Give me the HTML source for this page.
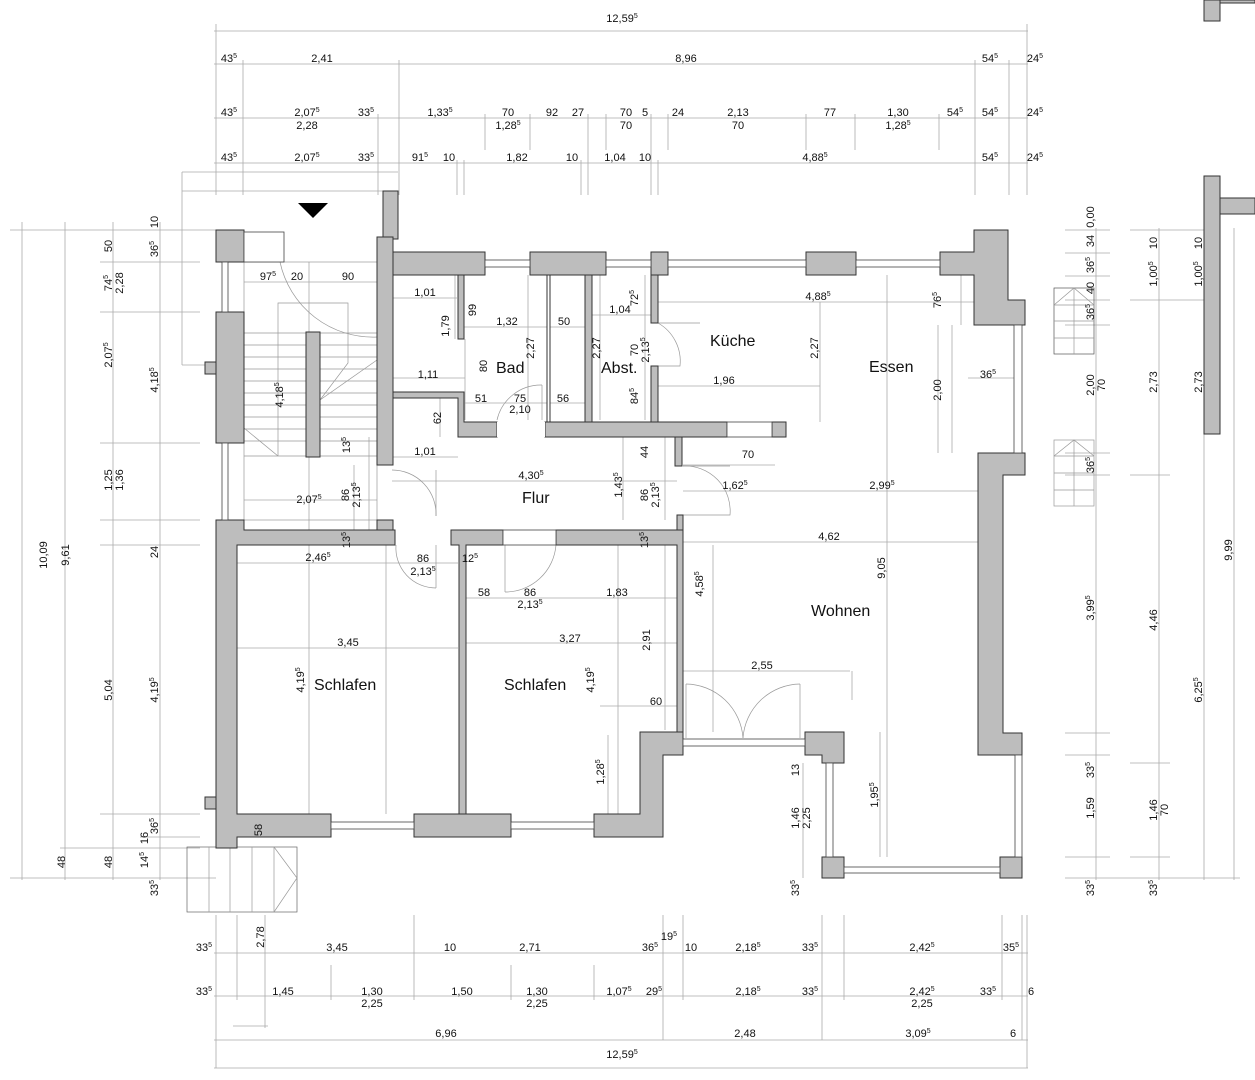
<!DOCTYPE html>
<html><head><meta charset="utf-8"><style>
html,body{margin:0;padding:0;background:#fff}
svg{display:block}
text{font-family:"Liberation Sans",sans-serif;fill:#111}
.d{font-size:11px}
.r{font-size:16px}
.s{font-size:7px}
.dl{stroke:#aaa;stroke-width:0.8;fill:none}
.w{fill:#bdbdbd;stroke:#333;stroke-width:1}
.win{fill:#fff;stroke:#444;stroke-width:0.8}
.th{stroke:#999;stroke-width:0.7;fill:none}
</style></head><body>
<svg width="1255" height="1080" viewBox="0 0 1255 1080" xmlns="http://www.w3.org/2000/svg">
<!-- top dimension lines -->
<g class="dl">
<line x1="214" y1="31" x2="1028" y2="31"/>
<line x1="214" y1="64" x2="1028" y2="64"/>
<line x1="214" y1="118" x2="1028" y2="118"/>
<line x1="214" y1="163" x2="1028" y2="163"/>
<line x1="216" y1="24" x2="216" y2="195"/><line x1="1027" y1="24" x2="1027" y2="195"/>
<line x1="243" y1="60" x2="243" y2="195"/><line x1="399" y1="60" x2="399" y2="195"/>
<line x1="975" y1="60" x2="975" y2="195"/><line x1="1009" y1="60" x2="1009" y2="195"/>
<line x1="378" y1="114" x2="378" y2="195"/><line x1="485" y1="114" x2="485" y2="150"/>
<line x1="530" y1="114" x2="530" y2="150"/><line x1="588" y1="114" x2="588" y2="195"/>
<line x1="606" y1="114" x2="606" y2="150"/><line x1="651" y1="114" x2="651" y2="195"/>
<line x1="668" y1="114" x2="668" y2="150"/><line x1="806" y1="114" x2="806" y2="150"/>
<line x1="855" y1="114" x2="855" y2="150"/><line x1="939" y1="114" x2="939" y2="150"/>
<line x1="457" y1="160" x2="457" y2="195"/><line x1="464" y1="160" x2="464" y2="195"/>
<line x1="581" y1="160" x2="581" y2="195"/><line x1="658" y1="160" x2="658" y2="195"/>
<line x1="182" y1="172" x2="398" y2="172"/><line x1="182" y1="191" x2="398" y2="191"/>
<line x1="182" y1="172" x2="182" y2="365"/><line x1="182" y1="365" x2="216" y2="365"/>
<!-- bottom -->
<line x1="214" y1="953" x2="1028" y2="953"/>
<line x1="214" y1="996" x2="1028" y2="996"/>
<line x1="214" y1="1040" x2="1028" y2="1040"/>
<line x1="214" y1="1068" x2="1028" y2="1068"/>
<line x1="216" y1="915" x2="216" y2="1068"/><line x1="1027" y1="915" x2="1027" y2="1068"/>
<line x1="237" y1="915" x2="237" y2="1000"/><line x1="331" y1="965" x2="331" y2="1000"/>
<line x1="414" y1="915" x2="414" y2="1000"/><line x1="511" y1="965" x2="511" y2="1000"/>
<line x1="594" y1="965" x2="594" y2="1000"/><line x1="663" y1="915" x2="663" y2="1040"/>
<line x1="683" y1="915" x2="683" y2="1000"/><line x1="822" y1="915" x2="822" y2="1040"/>
<line x1="844" y1="915" x2="844" y2="1000"/><line x1="1002" y1="915" x2="1002" y2="1000"/>
<line x1="1022" y1="915" x2="1022" y2="1040"/>
<line x1="265" y1="915" x2="265" y2="1028"/><line x1="233" y1="1026" x2="268" y2="1026"/>
<!-- left -->
<line x1="22" y1="222" x2="22" y2="880"/><line x1="65" y1="222" x2="65" y2="880"/>
<line x1="113" y1="222" x2="113" y2="880"/><line x1="160" y1="222" x2="160" y2="880"/>
<line x1="10" y1="230" x2="216" y2="230"/><line x1="10" y1="878" x2="216" y2="878"/>
<line x1="100" y1="262" x2="200" y2="262"/><line x1="100" y1="312" x2="200" y2="312"/>
<line x1="100" y1="443" x2="200" y2="443"/><line x1="100" y1="520" x2="200" y2="520"/>
<line x1="100" y1="545" x2="200" y2="545"/><line x1="100" y1="814" x2="200" y2="814"/>
<line x1="60" y1="848" x2="200" y2="848"/><line x1="140" y1="837" x2="200" y2="837"/>
<!-- right -->
<line x1="1096" y1="228" x2="1096" y2="880"/><line x1="1159" y1="228" x2="1159" y2="880"/>
<line x1="1204" y1="228" x2="1204" y2="880"/><line x1="1234" y1="228" x2="1234" y2="880"/>
<line x1="1065" y1="230" x2="1110" y2="230"/><line x1="1065" y1="253" x2="1110" y2="253"/>
<line x1="1065" y1="276" x2="1110" y2="276"/><line x1="1065" y1="300" x2="1110" y2="300"/>
<line x1="1065" y1="325" x2="1110" y2="325"/><line x1="1065" y1="453" x2="1110" y2="453"/>
<line x1="1065" y1="475" x2="1110" y2="475"/><line x1="1065" y1="733" x2="1110" y2="733"/>
<line x1="1065" y1="755" x2="1110" y2="755"/><line x1="1065" y1="857" x2="1110" y2="857"/>
<line x1="1065" y1="878" x2="1240" y2="878"/>
<line x1="1130" y1="230" x2="1210" y2="230"/><line x1="1130" y1="300" x2="1210" y2="300"/>
<line x1="1130" y1="475" x2="1170" y2="475"/><line x1="1130" y1="763" x2="1170" y2="763"/>
<line x1="1130" y1="857" x2="1170" y2="857"/>
<!-- interior dims -->
<line x1="244" y1="282" x2="377" y2="282"/><line x1="393" y1="298" x2="457" y2="298"/>
<line x1="464" y1="327" x2="585" y2="327"/><line x1="592" y1="315" x2="651" y2="315"/>
<line x1="658" y1="302" x2="974" y2="302"/><line x1="393" y1="378" x2="465" y2="378"/>
<line x1="658" y1="386" x2="820" y2="386"/><line x1="465" y1="403" x2="585" y2="403"/>
<line x1="393" y1="457" x2="458" y2="457"/><line x1="392" y1="481" x2="677" y2="481"/>
<line x1="683" y1="491" x2="978" y2="491"/><line x1="683" y1="465" x2="775" y2="465"/>
<line x1="244" y1="500" x2="377" y2="500"/><line x1="683" y1="542" x2="978" y2="542"/>
<line x1="237" y1="563" x2="458" y2="563"/><line x1="465" y1="598" x2="677" y2="598"/>
<line x1="237" y1="648" x2="458" y2="648"/><line x1="465" y1="643" x2="677" y2="643"/>
<line x1="683" y1="671" x2="850" y2="671"/><line x1="600" y1="706" x2="677" y2="706"/>
<line x1="820" y1="302" x2="820" y2="422"/><line x1="887" y1="275" x2="887" y2="857"/>
<line x1="952" y1="325" x2="952" y2="453"/><line x1="961" y1="275" x2="961" y2="325"/>
<line x1="309" y1="262" x2="309" y2="814"/><line x1="386" y1="545" x2="386" y2="814"/>
<line x1="618" y1="545" x2="618" y2="814"/><line x1="713" y1="545" x2="713" y2="732"/>
<line x1="608" y1="735" x2="608" y2="814"/><line x1="852" y1="671" x2="852" y2="700"/>
<line x1="880" y1="732" x2="880" y2="857"/><line x1="803" y1="763" x2="803" y2="878"/>
<line x1="665" y1="545" x2="665" y2="730"/>
<line x1="623" y1="422" x2="623" y2="520"/><line x1="665" y1="437" x2="665" y2="520"/>
<line x1="528" y1="275" x2="528" y2="420"/><line x1="600" y1="275" x2="600" y2="420"/>
<line x1="465" y1="339" x2="465" y2="420"/><line x1="645" y1="275" x2="645" y2="420"/>
<line x1="455" y1="275" x2="455" y2="339"/><line x1="440" y1="392" x2="440" y2="437"/>
<line x1="369" y1="437" x2="369" y2="545"/><line x1="354" y1="465" x2="354" y2="545"/>
<line x1="938" y1="325" x2="938" y2="453"/><line x1="968" y1="378" x2="1015" y2="378"/>
</g>
<!-- stair left -->
<g class="th">
<rect x="244" y="262" width="133" height="258"/>
<line x1="244" y1="333" x2="377" y2="333"/><line x1="244" y1="345" x2="377" y2="345"/>
<line x1="244" y1="357" x2="377" y2="357"/><line x1="244" y1="369" x2="377" y2="369"/>
<line x1="244" y1="381" x2="377" y2="381"/><line x1="244" y1="393" x2="377" y2="393"/>
<line x1="244" y1="405" x2="377" y2="405"/><line x1="244" y1="417" x2="377" y2="417"/>
<line x1="244" y1="429" x2="377" y2="429"/><line x1="244" y1="441" x2="377" y2="441"/>
<line x1="244" y1="456" x2="377" y2="456"/>
<polyline points="278,456 278,303 348,303 348,363 320,400"/>
<line x1="320" y1="400" x2="377" y2="360"/><line x1="244" y1="428" x2="278" y2="456"/>
<path d="M280,262 A95,95 0 0 0 377,337"/>
<!-- entrance stair -->
<rect x="187" y="847" width="110" height="65" stroke="#666"/>
<line x1="209" y1="847" x2="209" y2="912"/><line x1="230" y1="847" x2="230" y2="912"/>
<line x1="252" y1="847" x2="252" y2="912"/><line x1="274" y1="847" x2="274" y2="912"/>
<polyline points="274,847 297,878 274,912"/>
<!-- right small stairs -->
<rect x="1054" y="288" width="40" height="66" stroke="#555"/>
<line x1="1054" y1="305" x2="1094" y2="305"/><line x1="1054" y1="321" x2="1094" y2="321"/><line x1="1054" y1="338" x2="1094" y2="338"/>
<line x1="1074" y1="288" x2="1074" y2="354"/><polyline points="1054,305 1074,288 1094,305"/>
<rect x="1054" y="440" width="40" height="66"/>
<line x1="1054" y1="456" x2="1094" y2="456"/><line x1="1054" y1="473" x2="1094" y2="473"/><line x1="1054" y1="490" x2="1094" y2="490"/>
<line x1="1074" y1="440" x2="1074" y2="506"/><polyline points="1054,456 1074,440 1094,456"/>
<!-- door swings -->
<path d="M392,470 A44,44 0 0 1 436,516 L436,516"/><line x1="436" y1="470" x2="436" y2="516" stroke="#999"/>
<path d="M396,545 A40,40 0 0 0 436,588"/><line x1="436" y1="545" x2="436" y2="588"/>
<path d="M556,545 A51,51 0 0 1 505,592"/><line x1="505" y1="545" x2="505" y2="592"/>
<path d="M497,420 A45,45 0 0 1 542,385"/><line x1="542" y1="385" x2="542" y2="420"/>
<path d="M658,323 A44,44 0 0 1 680,366 L658,366"/><line x1="658" y1="323" x2="700" y2="323"/>
<path d="M683,466 A45,45 0 0 1 730,515 L683,515"/><line x1="683" y1="466" x2="730" y2="466"/>
<path d="M686,684 A58,58 0 0 1 743,738"/><line x1="686" y1="684" x2="686" y2="738"/>
<path d="M800,684 A58,58 0 0 0 743,738"/><line x1="800" y1="684" x2="800" y2="738"/>
</g>
<!-- walls -->
<g class="w">
<rect x="216" y="230" width="28" height="32"/>
<rect x="216" y="312" width="28" height="131"/>
<rect x="205" y="362" width="11" height="12"/>
<rect x="205" y="797" width="11" height="12"/>
<rect x="306" y="332" width="14" height="125"/>
<rect x="383" y="191" width="15" height="48"/>
<rect x="377" y="237" width="16" height="228"/>
<rect x="377" y="520" width="16" height="25"/>
<polygon points="216,520 244,520 244,530 395,530 395,545 237,545 237,814 331,814 331,837 237,837 237,848 216,848"/>
<rect x="414" y="814" width="97" height="23"/>
<polygon points="594,814 640,814 640,732 683,732 683,755 663,755 663,837 594,837"/>
<polygon points="451,530 503,530 503,545 466,545 466,814 459,814 459,545 451,545"/>
<polygon points="556,530 683,530 683,732 677,732 677,545 556,545"/>
<rect x="677" y="515" width="6" height="15"/>
<rect x="393" y="252" width="92" height="23"/>
<rect x="530" y="252" width="76" height="23"/>
<rect x="651" y="252" width="17" height="23"/>
<rect x="651" y="275" width="7" height="48"/>
<rect x="651" y="366" width="7" height="56"/>
<rect x="806" y="252" width="50" height="23"/>
<polygon points="940,252 974,252 974,230 1008,230 1008,300 1025,300 1025,325 974,325 974,275 940,275"/>
<rect x="458" y="275" width="6" height="64"/>
<rect x="585" y="275" width="7" height="147"/>
<rect x="547" y="275" width="3" height="147" fill="#fff"/>
<polygon points="393,392 464,392 464,422 497,422 497,437 458,437 458,398 393,398"/>
<polygon points="545,422 727,422 727,437 545,437"/>
<rect x="772" y="422" width="14" height="15"/>
<rect x="675" y="437" width="7" height="29"/>
<polygon points="978,453 1025,453 1025,475 1003,475 1003,733 1022,733 1022,755 978,755"/>
<polygon points="805,732 844,732 844,763 822,763 822,755 805,755"/>
<rect x="822" y="857" width="22" height="21"/>
<rect x="1000" y="857" width="22" height="21"/>
<rect x="1204" y="176" width="16" height="258"/>
<rect x="1220" y="198" width="35" height="16"/>
<rect x="1204" y="0" width="16" height="21"/>
<rect x="1220" y="0" width="35" height="3"/>
</g>
<!-- windows -->
<g class="win">
<rect x="485" y="260" width="45" height="7"/><rect x="606" y="260" width="45" height="7"/>
<rect x="668" y="260" width="138" height="7"/><rect x="856" y="260" width="84" height="7"/>
<rect x="1014" y="325" width="8" height="128"/>
<rect x="331" y="822" width="83" height="7"/><rect x="511" y="822" width="83" height="7"/>
<rect x="683" y="739" width="122" height="7"/>
<rect x="826" y="763" width="7" height="94"/><rect x="1015" y="755" width="7" height="102"/>
<rect x="844" y="867" width="156" height="6"/>
<rect x="222" y="262" width="6" height="50"/><rect x="222" y="443" width="6" height="77"/>
<rect x="244" y="232" width="40" height="30" fill="#fff"/>
<rect x="727" y="422" width="45" height="15" fill="#fff"/>
<rect x="503" y="530" width="53" height="15" fill="#fff"/>
<rect x="497" y="422" width="48" height="15" fill="#fff" stroke="none"/>
</g>
<polygon points="298,203 328,203 313,218" fill="#000"/>
<!-- room labels -->
<g class="r">
<text x="496" y="373">Bad</text><text x="601" y="373">Abst.</text>
<text x="710" y="346">Küche</text><text x="869" y="372">Essen</text>
<text x="522" y="503">Flur</text><text x="811" y="616">Wohnen</text>
<text x="314" y="690">Schlafen</text><text x="504" y="690">Schlafen</text>
</g>
<!-- top texts -->
<g class="d" text-anchor="middle">
<text x="622" y="22">12,59<tspan class="s" dy="-4">5</tspan></text>
<text x="229" y="62">43<tspan class="s" dy="-4">5</tspan></text><text x="322" y="62">2,41</text><text x="686" y="62">8,96</text>
<text x="990" y="62">54<tspan class="s" dy="-4">5</tspan></text><text x="1035" y="62">24<tspan class="s" dy="-4">5</tspan></text>
<text x="229" y="116">43<tspan class="s" dy="-4">5</tspan></text><text x="307" y="116">2,07<tspan class="s" dy="-4">5</tspan></text><text x="307" y="129">2,28</text>
<text x="366" y="116">33<tspan class="s" dy="-4">5</tspan></text><text x="440" y="116">1,33<tspan class="s" dy="-4">5</tspan></text>
<text x="508" y="116">70</text><text x="508" y="129">1,28<tspan class="s" dy="-4">5</tspan></text>
<text x="552" y="116">92</text><text x="578" y="116">27</text><text x="626" y="116">70</text><text x="626" y="129">70</text>
<text x="645" y="116">5</text><text x="678" y="116">24</text><text x="738" y="116">2,13</text><text x="738" y="129">70</text>
<text x="830" y="116">77</text><text x="898" y="116">1,30</text><text x="898" y="129">1,28<tspan class="s" dy="-4">5</tspan></text>
<text x="955" y="116">54<tspan class="s" dy="-4">5</tspan></text><text x="990" y="116">54<tspan class="s" dy="-4">5</tspan></text><text x="1035" y="116">24<tspan class="s" dy="-4">5</tspan></text>
<text x="229" y="161">43<tspan class="s" dy="-4">5</tspan></text><text x="307" y="161">2,07<tspan class="s" dy="-4">5</tspan></text>
<text x="366" y="161">33<tspan class="s" dy="-4">5</tspan></text><text x="420" y="161">91<tspan class="s" dy="-4">5</tspan></text>
<text x="449" y="161">10</text><text x="517" y="161">1,82</text><text x="572" y="161">10</text><text x="615" y="161">1,04</text>
<text x="645" y="161">10</text><text x="815" y="161">4,88<tspan class="s" dy="-4">5</tspan></text>
<text x="990" y="161">54<tspan class="s" dy="-4">5</tspan></text><text x="1035" y="161">24<tspan class="s" dy="-4">5</tspan></text>
<!-- bottom -->
<text x="204" y="951">33<tspan class="s" dy="-4">5</tspan></text><text x="337" y="951">3,45</text><text x="450" y="951">10</text>
<text x="530" y="951">2,71</text><text x="650" y="951">36<tspan class="s" dy="-4">5</tspan></text><text x="669" y="940">19<tspan class="s" dy="-4">5</tspan></text>
<text x="691" y="951">10</text><text x="748" y="951">2,18<tspan class="s" dy="-4">5</tspan></text><text x="810" y="951">33<tspan class="s" dy="-4">5</tspan></text>
<text x="922" y="951">2,42<tspan class="s" dy="-4">5</tspan></text><text x="1011" y="951">35<tspan class="s" dy="-4">5</tspan></text>
<text x="204" y="995">33<tspan class="s" dy="-4">5</tspan></text><text x="283" y="995">1,45</text>
<text x="372" y="995">1,30</text><text x="372" y="1007">2,25</text><text x="462" y="995">1,50</text>
<text x="537" y="995">1,30</text><text x="537" y="1007">2,25</text><text x="619" y="995">1,07<tspan class="s" dy="-4">5</tspan></text>
<text x="654" y="995">29<tspan class="s" dy="-4">5</tspan></text><text x="748" y="995">2,18<tspan class="s" dy="-4">5</tspan></text>
<text x="810" y="995">33<tspan class="s" dy="-4">5</tspan></text><text x="922" y="995">2,42<tspan class="s" dy="-4">5</tspan></text><text x="922" y="1007">2,25</text>
<text x="988" y="995">33<tspan class="s" dy="-4">5</tspan></text><text x="1031" y="995">6</text>
<text x="446" y="1037">6,96</text><text x="745" y="1037">2,48</text><text x="918" y="1037">3,09<tspan class="s" dy="-4">5</tspan></text><text x="1013" y="1037">6</text>
<text x="622" y="1058">12,59<tspan class="s" dy="-4">5</tspan></text>
<!-- interior horizontal -->
<text x="268" y="280">97<tspan class="s" dy="-4">5</tspan></text><text x="297" y="280">20</text><text x="348" y="280">90</text>
<text x="425" y="296">1,01</text><text x="507" y="325">1,32</text><text x="564" y="325">50</text>
<text x="620" y="313">1,04</text><text x="818" y="300">4,88<tspan class="s" dy="-4">5</tspan></text>
<text x="428" y="378">1,11</text><text x="724" y="384">1,96</text><text x="481" y="402">51</text><text x="520" y="402">75</text><text x="520" y="413">2,10</text>
<text x="563" y="402">56</text><text x="425" y="455">1,01</text><text x="531" y="479">4,30<tspan class="s" dy="-4">5</tspan></text>
<text x="748" y="458">70</text><text x="735" y="489">1,62<tspan class="s" dy="-4">5</tspan></text><text x="882" y="489">2,99<tspan class="s" dy="-4">5</tspan></text>
<text x="309" y="503">2,07<tspan class="s" dy="-4">5</tspan></text><text x="829" y="540">4,62</text>
<text x="318" y="561">2,46<tspan class="s" dy="-4">5</tspan></text><text x="423" y="562">86</text><text x="423" y="575">2,13<tspan class="s" dy="-4">5</tspan></text>
<text x="470" y="562">12<tspan class="s" dy="-4">5</tspan></text>
<text x="484" y="596">58</text><text x="530" y="596">86</text><text x="530" y="608">2,13<tspan class="s" dy="-4">5</tspan></text><text x="617" y="596">1,83</text>
<text x="348" y="646">3,45</text><text x="570" y="642">3,27</text><text x="762" y="669">2,55</text><text x="656" y="705">60</text>
<text x="988" y="378">36<tspan class="s" dy="-4">5</tspan></text>
</g>
<!-- vertical texts -->
<g class="d" text-anchor="middle">
<text transform="translate(47,555) rotate(-90)">10,09</text>
<text transform="translate(69,555) rotate(-90)">9,61</text>
<text transform="translate(112,246) rotate(-90)">50</text>
<text transform="translate(112,283) rotate(-90)">74<tspan class="s" dy="-4">5</tspan></text>
<text transform="translate(123,283) rotate(-90)">2,28</text>
<text transform="translate(112,355) rotate(-90)">2,07<tspan class="s" dy="-4">5</tspan></text>
<text transform="translate(112,480) rotate(-90)">1,25</text>
<text transform="translate(123,480) rotate(-90)">1,36</text>
<text transform="translate(112,690) rotate(-90)">5,04</text>
<text transform="translate(112,862) rotate(-90)">48</text>
<text transform="translate(65,862) rotate(-90)">48</text>
<text transform="translate(158,222) rotate(-90)">10</text>
<text transform="translate(158,249) rotate(-90)">36<tspan class="s" dy="-4">5</tspan></text>
<text transform="translate(158,380) rotate(-90)">4,18<tspan class="s" dy="-4">5</tspan></text>
<text transform="translate(158,552) rotate(-90)">24</text>
<text transform="translate(158,690) rotate(-90)">4,19<tspan class="s" dy="-4">5</tspan></text>
<text transform="translate(158,826) rotate(-90)">36<tspan class="s" dy="-4">5</tspan></text>
<text transform="translate(148,838) rotate(-90)">16</text>
<text transform="translate(148,860) rotate(-90)">14<tspan class="s" dy="-4">5</tspan></text>
<text transform="translate(158,888) rotate(-90)">33<tspan class="s" dy="-4">5</tspan></text>
<text transform="translate(264,937) rotate(-90)">2,78</text>
<text transform="translate(283,395) rotate(-90)">4,18<tspan class="s" dy="-4">5</tspan></text>
<text transform="translate(449,326) rotate(-90)">1,79</text>
<text transform="translate(476,310) rotate(-90)">99</text>
<text transform="translate(487,366) rotate(-90)">80</text>
<text transform="translate(534,348) rotate(-90)">2,27</text>
<text transform="translate(600,348) rotate(-90)">2,27</text>
<text transform="translate(638,298) rotate(-90)">72<tspan class="s" dy="-4">5</tspan></text>
<text transform="translate(638,350) rotate(-90)">70</text>
<text transform="translate(649,350) rotate(-90)">2,13<tspan class="s" dy="-4">5</tspan></text>
<text transform="translate(638,396) rotate(-90)">84<tspan class="s" dy="-4">5</tspan></text>
<text transform="translate(818,348) rotate(-90)">2,27</text>
<text transform="translate(941,300) rotate(-90)">76<tspan class="s" dy="-4">5</tspan></text>
<text transform="translate(941,390) rotate(-90)">2,00</text>
<text transform="translate(441,418) rotate(-90)">62</text>
<text transform="translate(350,445) rotate(-90)">13<tspan class="s" dy="-4">5</tspan></text>
<text transform="translate(349,495) rotate(-90)">86</text>
<text transform="translate(360,495) rotate(-90)">2,13<tspan class="s" dy="-4">5</tspan></text>
<text transform="translate(350,540) rotate(-90)">13<tspan class="s" dy="-4">5</tspan></text>
<text transform="translate(622,485) rotate(-90)">1,43<tspan class="s" dy="-4">5</tspan></text>
<text transform="translate(648,452) rotate(-90)">44</text>
<text transform="translate(648,495) rotate(-90)">86</text>
<text transform="translate(659,495) rotate(-90)">2,13<tspan class="s" dy="-4">5</tspan></text>
<text transform="translate(648,540) rotate(-90)">13<tspan class="s" dy="-4">5</tspan></text>
<text transform="translate(703,584) rotate(-90)">4,58<tspan class="s" dy="-4">5</tspan></text>
<text transform="translate(650,640) rotate(-90)">2,91</text>
<text transform="translate(304,680) rotate(-90)">4,19<tspan class="s" dy="-4">5</tspan></text>
<text transform="translate(594,680) rotate(-90)">4,19<tspan class="s" dy="-4">5</tspan></text>
<text transform="translate(604,772) rotate(-90)">1,28<tspan class="s" dy="-4">5</tspan></text>
<text transform="translate(262,830) rotate(-90)">58</text>
<text transform="translate(885,568) rotate(-90)">9,05</text>
<text transform="translate(799,770) rotate(-90)">13</text>
<text transform="translate(799,818) rotate(-90)">1,46</text>
<text transform="translate(810,818) rotate(-90)">2,25</text>
<text transform="translate(878,795) rotate(-90)">1,95<tspan class="s" dy="-4">5</tspan></text>
<text transform="translate(799,888) rotate(-90)">33<tspan class="s" dy="-4">5</tspan></text>
<!-- right -->
<text transform="translate(1094,217) rotate(-90)">0,00</text>
<text transform="translate(1094,241) rotate(-90)">34</text>
<text transform="translate(1094,265) rotate(-90)">36<tspan class="s" dy="-4">5</tspan></text>
<text transform="translate(1094,288) rotate(-90)">40</text>
<text transform="translate(1094,312) rotate(-90)">36<tspan class="s" dy="-4">5</tspan></text>
<text transform="translate(1094,385) rotate(-90)">2,00</text>
<text transform="translate(1105,385) rotate(-90)">70</text>
<text transform="translate(1094,465) rotate(-90)">36<tspan class="s" dy="-4">5</tspan></text>
<text transform="translate(1094,608) rotate(-90)">3,99<tspan class="s" dy="-4">5</tspan></text>
<text transform="translate(1094,770) rotate(-90)">33<tspan class="s" dy="-4">5</tspan></text>
<text transform="translate(1094,808) rotate(-90)">1,59</text>
<text transform="translate(1094,888) rotate(-90)">33<tspan class="s" dy="-4">5</tspan></text>
<text transform="translate(1157,243) rotate(-90)">10</text>
<text transform="translate(1157,274) rotate(-90)">1,00<tspan class="s" dy="-4">5</tspan></text>
<text transform="translate(1157,382) rotate(-90)">2,73</text>
<text transform="translate(1157,620) rotate(-90)">4,46</text>
<text transform="translate(1157,810) rotate(-90)">1,46</text>
<text transform="translate(1168,810) rotate(-90)">70</text>
<text transform="translate(1157,888) rotate(-90)">33<tspan class="s" dy="-4">5</tspan></text>
<text transform="translate(1202,243) rotate(-90)">10</text>
<text transform="translate(1202,274) rotate(-90)">1,00<tspan class="s" dy="-4">5</tspan></text>
<text transform="translate(1202,382) rotate(-90)">2,73</text>
<text transform="translate(1202,690) rotate(-90)">6,25<tspan class="s" dy="-4">5</tspan></text>
<text transform="translate(1232,550) rotate(-90)">9,99</text>
</g>
</svg>
</body></html>
